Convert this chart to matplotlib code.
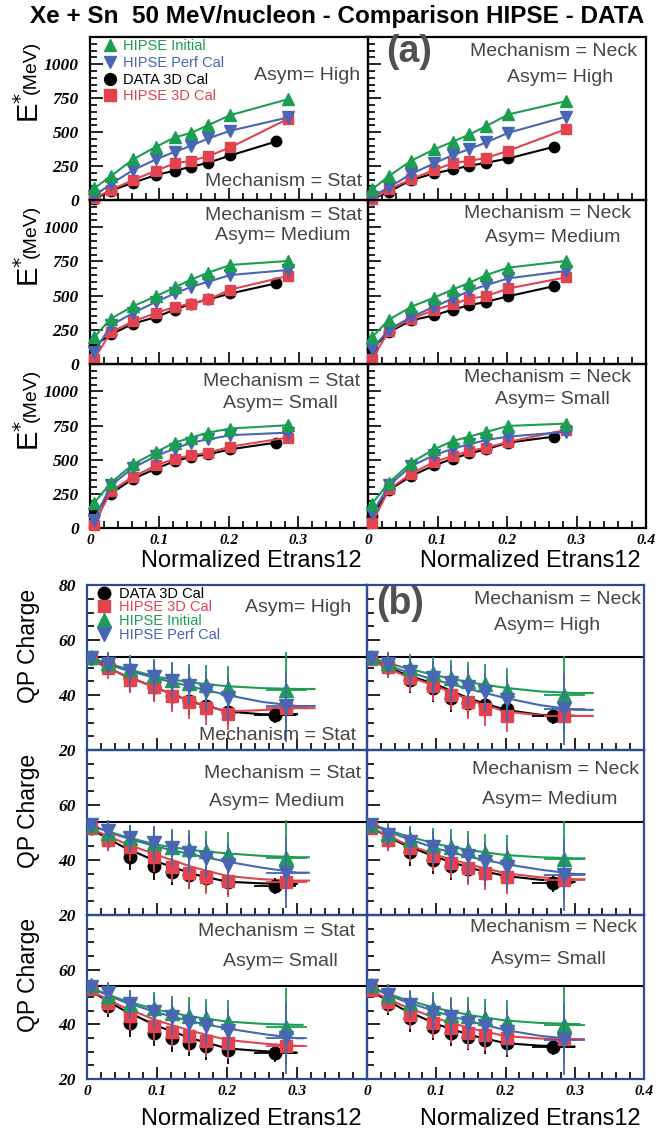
import matplotlib.pyplot as plt
import numpy as np
from matplotlib.ticker import MultipleLocator, FixedLocator
from matplotlib.lines import Line2D

plt.rcParams['font.family'] = ['Liberation Sans', 'DejaVu Sans']

# x positions of the bins (normalized Etrans12)
x_data = [0.006, 0.03, 0.062, 0.095, 0.122, 0.146, 0.17, 0.202, 0.268]
x_hipse = [0.006, 0.03, 0.062, 0.095, 0.122, 0.146, 0.17, 0.202, 0.285]

# panel order: Stat/High, Neck/High, Stat/Medium, Neck/Medium, Stat/Small, Neck/Small
mech = ['Stat', 'Neck', 'Stat', 'Neck', 'Stat', 'Neck']
asym = ['High', 'High', 'Medium', 'Medium', 'Small', 'Small']

# (a) E* (MeV)
estar_init = [[86, 176, 299, 392, 461, 495, 551, 625, 742],
              [78, 176, 289, 372, 429, 483, 544, 630, 728],
              [197, 332, 423, 496, 560, 619, 668, 725, 754],
              [197, 324, 418, 486, 545, 595, 651, 705, 754],
              [184, 331, 466, 556, 625, 662, 698, 728, 752],
              [179, 331, 478, 576, 637, 669, 703, 747, 764]]
estar_perf = [[30, 118, 220, 299, 355, 400, 453, 510, 608],
              [25, 93, 191, 270, 331, 375, 424, 495, 613],
              [86, 283, 373, 455, 516, 565, 602, 651, 688],
              [111, 251, 344, 418, 479, 536, 577, 627, 681],
              [61, 311, 441, 527, 581, 625, 649, 679, 698],
              [110, 311, 453, 532, 581, 613, 644, 669, 703]]
estar_cal3d = [[12, 74, 147, 216, 270, 289, 323, 387, 598],
               [5, 78, 152, 221, 270, 289, 309, 363, 522],
               [37, 233, 312, 373, 418, 442, 472, 545, 644],
               [37, 241, 332, 393, 437, 479, 496, 553, 634],
               [25, 270, 375, 458, 507, 532, 551, 595, 662],
               [37, 282, 397, 483, 527, 564, 588, 630, 718]]
estar_data = [[5, 69, 127, 184, 216, 245, 274, 328, 431],
              [5, 61, 147, 196, 225, 252, 274, 306, 392],
              [135, 216, 295, 344, 398, 442, 472, 516, 590],
              [111, 233, 319, 356, 398, 430, 455, 496, 570],
              [98, 252, 360, 434, 490, 522, 539, 576, 625],
              [86, 277, 380, 458, 507, 546, 576, 625, 669]]

# (b) QP charge
qp_data = [[53.5, 51.1, 46.2, 42.9, 39.8, 37.7, 36.1, 34.0, 32.8],
           [53.5, 50.2, 45.6, 42.6, 38.9, 37.1, 36.5, 34.9, 32.4],
           [51.5, 47.3, 41.2, 37.8, 35.8, 34.5, 33.3, 32.1, 30.5],
           [52.4, 47.3, 43.0, 40.0, 37.8, 36.6, 35.2, 33.7, 31.5],
           [53.2, 46.7, 40.4, 37.0, 34.9, 33.3, 32.1, 30.6, 29.4],
           [53.2, 47.5, 42.2, 39.2, 37.0, 35.5, 34.3, 33.1, 31.8]]
qp_cal3d = [[53.5, 49.9, 45.6, 42.9, 39.5, 37.3, 35.2, 33.2, 35.2],
            [53.2, 50.2, 46.2, 43.2, 40.1, 37.3, 34.9, 32.4, 32.4],
            [51.5, 47.3, 44.6, 41.0, 37.6, 35.4, 33.7, 32.5, 32.1],
            [51.5, 47.3, 44.2, 41.5, 38.8, 37.0, 35.2, 33.7, 32.7],
            [52.8, 47.7, 43.1, 39.4, 37.3, 35.7, 34.0, 33.3, 32.1],
            [52.6, 48.3, 43.4, 40.6, 38.5, 37.0, 36.1, 34.9, 34.5]]
qp_init = [[53.9, 51.5, 49.5, 47.1, 45.6, 44.4, 43.8, 42.6, 41.7],
           [53.9, 51.7, 49.9, 48.0, 46.2, 45.0, 44.1, 41.7, 40.1],
           [52.7, 49.7, 47.9, 46.1, 44.6, 43.9, 43.4, 42.2, 40.6],
           [52.7, 49.5, 47.5, 45.5, 44.6, 43.6, 42.4, 41.2, 40.2],
           [54.4, 50.4, 47.5, 45.9, 44.0, 43.1, 42.2, 41.0, 39.2],
           [54.4, 50.7, 47.7, 45.9, 43.4, 43.1, 42.2, 41.0, 39.8]]
qp_perf = [[53.5, 51.1, 48.7, 46.6, 45.0, 43.4, 41.3, 38.9, 35.9],
           [53.5, 51.1, 48.3, 46.2, 44.4, 42.9, 41.0, 38.3, 34.9],
           [52.7, 50.7, 47.9, 46.3, 44.2, 42.4, 40.6, 38.2, 35.4],
           [52.7, 49.1, 46.7, 44.6, 42.4, 41.5, 39.4, 37.6, 34.5],
           [53.8, 51.4, 47.5, 44.6, 42.6, 40.6, 39.4, 37.7, 34.9],
           [54.0, 50.7, 47.1, 44.3, 42.6, 40.6, 39.4, 37.3, 34.3]]

err_data = [1.5, 4, 5, 5, 5, 5, 5, 5, 3]
err_cal3d = [2, 4, 5, 5.5, 5.5, 6, 6, 6, 2.5]
err_init = [1.5, 4, 5, 6, 6.5, 7, 7, 8, 14]
err_perf = [1.5, 4, 5, 6, 6.5, 7, 7, 8, 13]
xerr_last = 0.03
qp_ref = 54

# fit curves in (b), read at these x values
x_fit = [0, 0.05, 0.1, 0.15, 0.2, 0.25, 0.3]
fit_end = [0.325, 0.326, 0.317, 0.314, 0.308, 0.307]
data_fit_end = 0.298
fit_init = [[53.9, 50.0, 46.6, 44.5, 43.2, 42.5, 42.2],
            [53.9, 50.2, 47.1, 44.5, 42.6, 41.3, 40.7],
            [53.0, 48.8, 45.5, 43.6, 42.4, 41.5, 41.0],
            [53.5, 49.3, 45.8, 43.5, 41.8, 41.0, 40.6],
            [53.8, 49.0, 45.3, 42.8, 41.0, 40.2, 39.8],
            [54.0, 49.5, 45.9, 43.3, 41.4, 40.5, 40.1]]
fit_perf = [[53.5, 49.5, 46.0, 43.0, 40.0, 37.5, 36.0],
            [53.5, 49.0, 45.4, 42.0, 38.9, 36.3, 34.6],
            [53.0, 48.5, 44.8, 42.0, 39.4, 37.2, 35.4],
            [53.5, 48.5, 44.2, 41.0, 38.5, 36.5, 34.9],
            [53.8, 48.5, 44.3, 41.0, 38.5, 36.5, 34.9],
            [54.0, 48.8, 44.6, 41.0, 37.9, 35.8, 34.5]]
fit_cal3d = [[53.5, 47.5, 42.5, 37.5, 34.0, 34.5, 35.2],
             [53.2, 47.5, 43.2, 38.0, 34.0, 32.6, 32.4],
             [52.0, 46.5, 41.8, 37.5, 34.2, 33.0, 32.5],
             [52.5, 46.5, 41.8, 38.2, 35.2, 33.7, 33.0],
             [53.0, 46.5, 41.4, 37.5, 34.3, 33.0, 32.1],
             [53.0, 47.0, 42.2, 38.5, 35.7, 34.8, 34.5]]
fit_data = [[53.5, 47.5, 42.5, 37.5, 34.0, 33.0, 33.0],
            [53.5, 48.0, 43.8, 38.5, 34.6, 32.8, 32.4],
            [52.0, 45.0, 39.4, 35.0, 32.1, 31.5, 31.3],
            [52.5, 46.0, 41.0, 37.0, 34.2, 32.8, 32.0],
            [53.0, 45.5, 39.4, 34.8, 31.2, 30.2, 29.6],
            [53.0, 45.8, 40.1, 36.0, 33.1, 32.2, 31.8]]

green = '#1c9e52'
blue = '#4866b2'
red = '#e2434f'
navy = '#2d4b8e'
grey = '#454545'

W, H = 659, 1133
fig = plt.figure(figsize=(W / 100, H / 100), dpi=100)


def px_axes(x0, y0, x1, y1):
    return fig.add_axes([x0 / W, 1 - y1 / H, (x1 - x0) / W, (y1 - y0) / H])


def ftext(x, y, s, **kw):
    fig.text(x / W, 1 - y / H, s, **kw)


ytick_font = dict(family='Liberation Serif', weight='bold', style='italic', size=12.5)
xtick_font = dict(family='Liberation Serif', weight='bold', style='italic', size=11)


def style_axes(ax, ymin, ymax, ymaj, ymin_step, spine_col):
    ax.set_xlim(0, 0.4)
    ax.set_ylim(ymin, ymax)
    ax.xaxis.set_major_locator(MultipleLocator(0.1))
    ax.xaxis.set_minor_locator(MultipleLocator(0.02))
    ax.yaxis.set_major_locator(MultipleLocator(ymaj))
    ax.yaxis.set_minor_locator(MultipleLocator(ymin_step))
    ax.tick_params(which='both', direction='in', top=False, right=False, width=1.2, color='k')
    ax.tick_params(which='major', length=9)
    ax.tick_params(which='minor', length=5)
    ax.tick_params(axis='y', pad=8)
    ax.tick_params(axis='x', pad=4)
    for sp in ax.spines.values():
        sp.set_color(spine_col)
        sp.set_linewidth(1.6)
    ax.patch.set_alpha(0)


# ---------------- (a) ----------------
cols_a = [(90, 368), (368, 646)]
rows_a = [(37, 200), (200, 364), (364, 528)]
mech_pos_a = [(362, 182, 'right'), (553, 52, 'center'), (362, 215, 'right'),
              (547, 213, 'center'), (360, 382, 'right'), (547, 378, 'center')]
asym_pos_a = [(360, 75, 'right'), (560, 77, 'center'), (283, 235, 'center'),
              (553, 237, 'center'), (280, 403, 'center'), (552, 400, 'center')]

axes_a = []
for k in range(6):
    r, c = divmod(k, 2)
    ax = px_axes(cols_a[c][0], rows_a[r][0], cols_a[c][1], rows_a[r][1])
    style_axes(ax, 0, 1200, 250, 50, 'k')
    ax.plot(x_data, estar_data[k], 'o-', color='k', ms=7.5, lw=1.5, clip_on=False, zorder=3)
    ax.plot(x_hipse, estar_cal3d[k], 's-', color=red, ms=7.5, lw=1.5, clip_on=False, zorder=4)
    ax.plot(x_hipse, estar_perf[k], 'v-', color=blue, ms=8, lw=1.5, clip_on=False, zorder=5)
    ax.plot(x_hipse, estar_init[k], '^-', color=green, ms=8, lw=1.5, clip_on=False, zorder=6)
    if c == 0:
        ax.set_yticks([0, 250, 500, 750, 1000])
        ax.set_yticklabels(['0', '250', '500', '750', '1000'], fontdict=ytick_font)
    else:
        ax.set_yticklabels([])
    if r == 2:
        ax.set_xticks([0, 0.1, 0.2, 0.3, 0.4])
        if c == 0:
            ax.set_xticklabels(['0', '0.1', '0.2', '0.3', ''], fontdict=xtick_font)
        else:
            ax.set_xticklabels(['0', '0.1', '0.2', '0.3', '0.4'], fontdict=xtick_font)
    else:
        ax.set_xticklabels([])
    mx, my, mha = mech_pos_a[k]
    ftext(mx, my, 'Mechanism = ' + mech[k], ha=mha, va='center', fontsize=14, color=grey)
    axx, axy, aha = asym_pos_a[k]
    ftext(axx, axy, 'Asym= ' + asym[k], ha=aha, va='center', fontsize=14, color=grey)
    axes_a.append(ax)

h_a = [Line2D([], [], marker='^', color=green, ls='none', ms=9),
       Line2D([], [], marker='v', color=blue, ls='none', ms=9),
       Line2D([], [], marker='o', color='k', ls='none', ms=8.5),
       Line2D([], [], marker='s', color=red, ls='none', ms=8.5)]
axes_a[0].legend(h_a, ['HIPSE Initial', 'HIPSE Perf Cal', 'DATA 3D Cal', 'HIPSE 3D Cal'],
                 loc='upper left', bbox_to_anchor=(0.045, 0.985), frameon=False,
                 fontsize=10.5, labelcolor=[green, blue, 'k', red], handlelength=1.0,
                 handletextpad=0.4, labelspacing=0.18, borderpad=0, borderaxespad=0)

for r in range(3):
    yc = (rows_a[r][0] + rows_a[r][1]) / 2
    ftext(30, yc - 11, r'E$^{*}$', rotation=90, ha='center', va='center', fontsize=21)
    ftext(31, yc - 51, '(MeV)', rotation=90, ha='center', va='center', fontsize=14)

ftext(362, 561, 'Normalized Etrans12', ha='right', va='center', fontsize=17)
ftext(641, 561, 'Normalized Etrans12', ha='right', va='center', fontsize=17)

# ---------------- (b) ----------------
cols_b = [(87, 367), (367, 644)]
rows_b = [(585, 750), (750, 915), (915, 1079)]
mech_pos_b = [(278, 735), (558, 600), (283, 773), (555, 770), (277, 932), (553, 928)]
asym_pos_b = [(298, 608), (547, 625), (277, 802), (550, 800), (280, 962), (548, 959)]

axes_b = []
for k in range(6):
    r, c = divmod(k, 2)
    ax = px_axes(cols_b[c][0], rows_b[r][0], cols_b[c][1], rows_b[r][1])
    style_axes(ax, 20, 80, 20, 5, navy)
    ax.axhline(qp_ref, color='k', lw=1.5, zorder=1)
    xd = x_fit + [data_fit_end]
    xh = x_fit + [fit_end[k]]
    ax.plot(xd, fit_data[k] + [fit_data[k][-1]], color='k', lw=1.5, zorder=2)
    ax.plot(xh, fit_cal3d[k] + [fit_cal3d[k][-1]], color=red, lw=1.5, zorder=2)
    ax.plot(xh, fit_init[k] + [fit_init[k][-1]], color=green, lw=1.5, zorder=2)
    ax.plot(xh, fit_perf[k] + [fit_perf[k][-1]], color=blue, lw=1.5, zorder=2)
    series = [(x_data, qp_data[k], err_data, 'k', 'o', 9),
              (x_hipse, qp_cal3d[k], err_cal3d, red, 's', 9),
              (x_hipse, qp_init[k], err_init, green, '^', 9.5),
              (x_hipse, qp_perf[k], err_perf, blue, 'v', 9.5)]
    for z, (xs, ys, es, col, mk, ms) in enumerate(series):
        xe = [0] * (len(xs) - 1) + [xerr_last]
        ax.errorbar(xs, ys, yerr=es, xerr=xe, fmt='none', ecolor=col, elinewidth=1.3,
                    capsize=0, zorder=3 + 2 * z)
        ax.plot(xs, ys, mk, color=col, ms=ms, ls='none', zorder=4 + 2 * z)
    if c == 0:
        ax.set_yticks([20, 40, 60, 80])
        if r == 0:
            ax.set_yticklabels(['20', '40', '60', '80'], fontdict=ytick_font)
        else:
            ax.set_yticklabels(['20', '40', '60', ''], fontdict=ytick_font)
    else:
        ax.set_yticklabels([])
    if r == 2:
        ax.set_xticks([0, 0.1, 0.2, 0.3, 0.4])
        if c == 0:
            ax.set_xticklabels(['0', '0.1', '0.2', '0.3', ''], fontdict=xtick_font)
        else:
            ax.set_xticklabels(['0', '0.1', '0.2', '0.3', '0.4'], fontdict=xtick_font)
    else:
        ax.set_xticklabels([])
    mx, my = mech_pos_b[k]
    ftext(mx, my, 'Mechanism = ' + mech[k], ha='center', va='center', fontsize=14, color=grey)
    axx, axy = asym_pos_b[k]
    ftext(axx, axy, 'Asym= ' + asym[k], ha='center', va='center', fontsize=14, color=grey)
    axes_b.append(ax)

h_b = [Line2D([], [], marker='o', color='k', ls='none', ms=9),
       Line2D([], [], marker='s', color=red, ls='none', ms=9),
       Line2D([], [], marker='^', color=green, ls='none', ms=9.5),
       Line2D([], [], marker='v', color=blue, ls='none', ms=9.5)]
axes_b[0].legend(h_b, ['DATA 3D Cal', 'HIPSE 3D Cal', 'HIPSE Initial', 'HIPSE Perf Cal'],
                 loc='upper left', bbox_to_anchor=(0.03, 0.99), frameon=False,
                 fontsize=10.5, labelcolor=['k', red, green, blue], handlelength=1.2,
                 handletextpad=0.4, labelspacing=-0.02, borderpad=0, borderaxespad=0)

for r in range(3):
    yc = (rows_b[r][0] + rows_b[r][1]) / 2
    ftext(29, yc - 22, 'QP Charge', rotation=90, ha='center', va='center', fontsize=16.5)

ftext(362, 1119, 'Normalized Etrans12', ha='right', va='center', fontsize=17)
ftext(641, 1119, 'Normalized Etrans12', ha='right', va='center', fontsize=17)

# titles and panel tags
ftext(337, 17, 'Xe + Sn  50 MeV/nucleon - Comparison HIPSE - DATA', ha='center', va='center',
      fontsize=17.5, weight='bold')
ftext(386, 52, '(a)', ha='left', va='center', fontsize=27, weight='bold', color='#505050')
ftext(376, 604, '(b)', ha='left', va='center', fontsize=27, weight='bold', color='#505050')

fig.savefig('out.png', dpi=100)
